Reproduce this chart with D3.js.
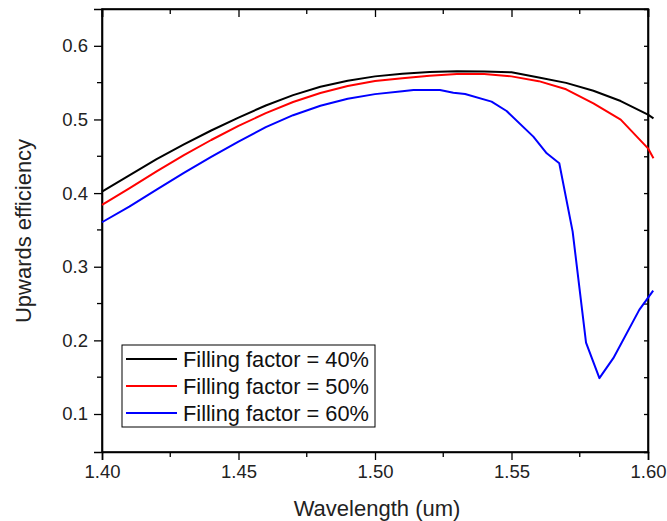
<!DOCTYPE html>
<html>
<head>
<meta charset="utf-8">
<script src="https://cdn.jsdelivr.net/npm/d3@7"></script>
<style>
  body { margin: 0; background: #fff; }
  svg { font-family: "Liberation Sans", Arial, sans-serif; }
</style>
</head>
<body>
<svg id="chart" width="667" height="521"></svg>
<script>
// wavelength grid (um) shared by the 40% and 50% curves
var wavelength = [1.40, 1.41, 1.42, 1.43, 1.44, 1.45, 1.46, 1.47, 1.48, 1.49, 1.50,
                  1.51, 1.52, 1.53, 1.54, 1.55, 1.56, 1.57, 1.58, 1.59, 1.60, 1.602];

var eff40 = [0.402, 0.424, 0.446, 0.466, 0.485, 0.5025, 0.519, 0.533, 0.5445, 0.5527, 0.5585,
             0.5622, 0.5645, 0.5655, 0.5652, 0.564, 0.557, 0.5497, 0.539, 0.525, 0.5065, 0.5015];

var eff50 = [0.384, 0.4063, 0.4296, 0.4515, 0.4721, 0.4913, 0.5085, 0.5237, 0.536, 0.5455, 0.5521,
             0.556, 0.5595, 0.5617, 0.5618, 0.5585, 0.552, 0.541, 0.5219, 0.4997, 0.4608, 0.4473];

// the 60% curve has its own sampling near the dip
var wavelength60 = [1.40, 1.41, 1.42, 1.43, 1.44, 1.45, 1.46, 1.47, 1.48, 1.49, 1.50, 1.51,
                    1.5141, 1.5238, 1.5287, 1.533, 1.5427, 1.5482, 1.558, 1.5629, 1.5675,
                    1.5724, 1.5773, 1.5822, 1.5873, 1.5968, 1.6019];

var eff60 = [0.3604, 0.3817, 0.4048, 0.4274, 0.4492, 0.470, 0.4896, 0.5058, 0.5187, 0.5281, 0.5344, 0.5382,
             0.540, 0.540, 0.5364, 0.5346, 0.5242, 0.5115, 0.4767, 0.454, 0.4405,
             0.3477, 0.197, 0.1487, 0.1758, 0.2414, 0.2676];

var seriesNames = ["Filling factor = 40%", "Filling factor = 50%", "Filling factor = 60%"];
var seriesColors = ["#000000", "#ff0000", "#0000ff"];

var xMajor = [1.40, 1.45, 1.50, 1.55, 1.60];
var xMinor = [1.425, 1.475, 1.525, 1.575];
var yMajor = [0.1, 0.2, 0.3, 0.4, 0.5, 0.6];
var yMinor = [0.15, 0.25, 0.35, 0.45, 0.55];

!function() {

  var pLeft = 102, pRight = 648, pTop = 9, pBottom = 452;

  var svg = d3.select("#chart");

  var x = d3.scaleLinear().domain([1.40, 1.60]).range([pLeft, pRight]);
  var y = d3.scaleLinear().domain([0.0484, 0.65]).range([pBottom, pTop]);

  var series = [
    wavelength.map(function(w, i) { return [w, eff40[i]]; }),
    wavelength.map(function(w, i) { return [w, eff50[i]]; }),
    wavelength60.map(function(w, i) { return [w, eff60[i]]; })
  ];

  var line = d3.line()
    .x(function(d) { return x(d[0]); })
    .y(function(d) { return y(d[1]); });

  // frame
  svg.append("rect")
    .attr("x", pLeft).attr("y", pTop)
    .attr("width", pRight - pLeft).attr("height", pBottom - pTop)
    .attr("fill", "none").attr("stroke", "#000").attr("stroke-width", 1.6);

  // bottom axis: outward ticks
  var bottomAxis = svg.append("g").attr("transform", "translate(0," + pBottom + ")")
    .call(d3.axisBottom(x).tickValues(xMajor).tickSize(8).tickPadding(5).tickFormat(d3.format(".2f")));
  bottomAxis.append("g").selectAll("line").data(xMinor).enter().append("line")
    .attr("x1", function(d) { return x(d); }).attr("x2", function(d) { return x(d); })
    .attr("y1", 0).attr("y2", 5).attr("stroke", "#000");

  // left axis: outward ticks
  var leftAxis = svg.append("g").attr("transform", "translate(" + pLeft + ",0)")
    .call(d3.axisLeft(y).tickValues(yMajor).tickSize(8).tickPadding(6).tickFormat(d3.format(".1f")));
  leftAxis.append("g").selectAll("line").data(yMinor).enter().append("line")
    .attr("y1", function(d) { return y(d); }).attr("y2", function(d) { return y(d); })
    .attr("x1", 0).attr("x2", -5).attr("stroke", "#000");

  // top axis: inward ticks, no labels
  var topAxis = svg.append("g").attr("transform", "translate(0," + pTop + ")")
    .call(d3.axisTop(x).tickValues(xMajor).tickSize(-8).tickFormat(""));
  topAxis.append("g").selectAll("line").data(xMinor).enter().append("line")
    .attr("x1", function(d) { return x(d); }).attr("x2", function(d) { return x(d); })
    .attr("y1", 0).attr("y2", 5).attr("stroke", "#000");

  // right axis: short inward ticks, no labels
  var rightAxis = svg.append("g").attr("transform", "translate(" + pRight + ",0)")
    .call(d3.axisRight(y).tickValues(yMajor.concat(yMinor)).tickSize(-4).tickFormat(""));

  [bottomAxis, leftAxis, topAxis, rightAxis].forEach(function(a) {
    a.select(".domain").attr("stroke-width", 1.6);
    a.selectAll("line").attr("stroke-width", 1.3);
    a.selectAll("text")
      .attr("font-family", "Liberation Sans, Arial, sans-serif")
      .attr("font-size", 18.5)
      .attr("fill", "#222");
  });

  // curves
  series.forEach(function(s, i) {
    svg.append("path")
      .datum(s)
      .attr("d", line)
      .attr("fill", "none")
      .attr("stroke", seriesColors[i])
      .attr("stroke-width", 2)
      .attr("stroke-linejoin", "round");
  });

  // axis titles
  svg.append("text")
    .attr("x", 377).attr("y", 516)
    .attr("text-anchor", "middle")
    .attr("font-size", 22)
    .attr("fill", "#222")
    .text("Wavelength (um)");

  svg.append("text")
    .attr("transform", "translate(31,231) rotate(-90)")
    .attr("text-anchor", "middle")
    .attr("font-size", 22)
    .attr("fill", "#222")
    .text("Upwards efficiency");

  // legend
  var legend = svg.append("g");
  legend.append("rect")
    .attr("x", 122).attr("y", 345)
    .attr("width", 253).attr("height", 82)
    .attr("fill", "#fff").attr("stroke", "#000").attr("stroke-width", 1);

  seriesNames.forEach(function(name, i) {
    var cy = 359 + i * 27;
    legend.append("line")
      .attr("x1", 126).attr("x2", 177)
      .attr("y1", cy).attr("y2", cy)
      .attr("stroke", seriesColors[i]).attr("stroke-width", 2);
    legend.append("text")
      .attr("x", 183).attr("y", cy + 7.5)
      .attr("font-size", 21.8)
      .attr("fill", "#111")
      .text(name);
  });

}();
</script>
</body>
</html>
